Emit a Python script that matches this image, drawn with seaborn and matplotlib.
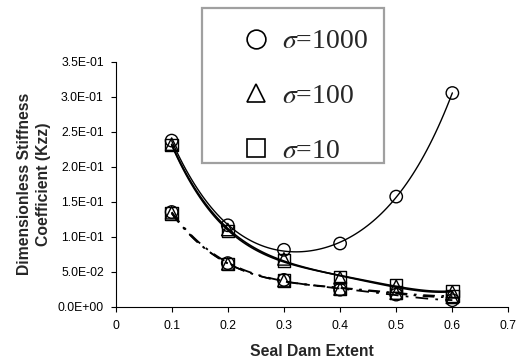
import numpy as np
import pandas as pd
import matplotlib
matplotlib.use("Agg")
import matplotlib.pyplot as plt
import seaborn as sns
from matplotlib.lines import Line2D
from matplotlib.patches import Rectangle

# ---- data ----
seal_dam_extent = [0.1, 0.2, 0.3, 0.4, 0.5, 0.6]
upper_s1000 = [0.237, 0.116, 0.081, 0.090, 0.157, 0.305]
upper_s100 = [0.232, 0.110, 0.068, 0.041, 0.029, 0.021]
upper_s10 = [0.231, 0.108, 0.066, 0.042, 0.030, 0.022]
lower_s1000 = [0.135, 0.062, 0.038, 0.024, 0.017, 0.009]
lower_s100 = [0.134, 0.061, 0.037, 0.025, 0.019, 0.013]
lower_s10 = [0.133, 0.061, 0.037, 0.026, 0.020, 0.015]
legend_labels = [r"$\sigma$=1000", r"$\sigma$=100", r"$\sigma$=10"]
x_ticks = [0, 0.1, 0.2, 0.3, 0.4, 0.5, 0.6, 0.7]
y_ticks = [0, 0.05, 0.10, 0.15, 0.20, 0.25, 0.30, 0.35]

sns.set_style("ticks")
plt.rcParams["font.family"] = ["Liberation Sans", "DejaVu Sans"]
plt.rcParams["mathtext.fontset"] = "stix"

W, H = 521, 364
fig = plt.figure(figsize=(W / 100, H / 100), dpi=100)
x0, x1, y_top, y_bot = 115.5, 508.5, 61.5, 306.5
ax = fig.add_axes([x0 / W, 1 - y_bot / H, (x1 - x0) / W, (y_bot - y_top) / H])

dashdot = (0, (7, 4, 1.5, 4))
series = [
    (upper_s1000, "o", "-", 1.0),
    (upper_s100, "^", "-", 1.2),
    (upper_s10, "s", "-", 1.2),
    (lower_s1000, "o", dashdot, 1.3),
    (lower_s100, "^", dashdot, 1.2),
    (lower_s10, "s", dashdot, 1.2),
]

for vals, mk, ls, lw in series:
    sns.regplot(x=seal_dam_extent, y=vals, order=4, ci=None, scatter=False, ax=ax,
                line_kws=dict(color="black", lw=lw, ls=ls))
for vals, mk, ls, lw in series:
    sns.scatterplot(x=seal_dam_extent, y=vals, marker=mk, s=80, ax=ax,
                    facecolor="none", edgecolor="black", linewidth=1.0, zorder=3)

ax.set_xlim(0, 0.7)
ax.set_ylim(0, 0.35)
ax.set_xticks(x_ticks)
ax.set_xticklabels(["0"] + [f"{v:g}" for v in x_ticks[1:]])
ax.set_yticks(y_ticks)
ax.set_yticklabels([f"{v:.1E}" for v in y_ticks])
ax.tick_params(direction="out", length=3.4, width=0.8, labelsize=8.8,
               colors="black")
ax.tick_params(axis="x", pad=6.0)
ax.tick_params(axis="y", pad=5.0)
sns.despine(ax=ax)
for s in ("left", "bottom"):
    ax.spines[s].set_linewidth(0.8)
    ax.spines[s].set_color("black")

ax.set_xlabel("Seal Dam Extent", fontsize=11.3, fontweight="bold", labelpad=9)
ax.set_ylabel("Dimensionless Stiffness\nCoefficient (Kzz)", fontsize=11.3,
              fontweight="bold", linespacing=1.35)
ax.yaxis.set_label_coords(-0.163, 0.5)

# legend box
rect = Rectangle((202 / W, 1 - 163 / H), (384 - 202) / W, (163 - 8) / H,
                 transform=fig.transFigure, facecolor="white",
                 edgecolor="#a0a0a0", linewidth=1.6, zorder=5)
fig.add_artist(rect)
handles = [Line2D([], [], marker=m, linestyle="none", markerfacecolor="none",
                  markeredgecolor="black", markersize=13.5, markeredgewidth=1.2)
           for m in ("o", "^", "s")]
leg = fig.legend(handles, legend_labels, loc="upper left",
                 bbox_to_anchor=(242 / W, 1 - 29 / H), frameon=False,
                 prop=dict(family=["Liberation Serif", "DejaVu Serif"], size=20),
                 borderpad=0, borderaxespad=0, handlelength=1.0,
                 handletextpad=0.45, labelspacing=1.05)
leg.set_zorder(6)

fig.savefig("out.png", dpi=100)
